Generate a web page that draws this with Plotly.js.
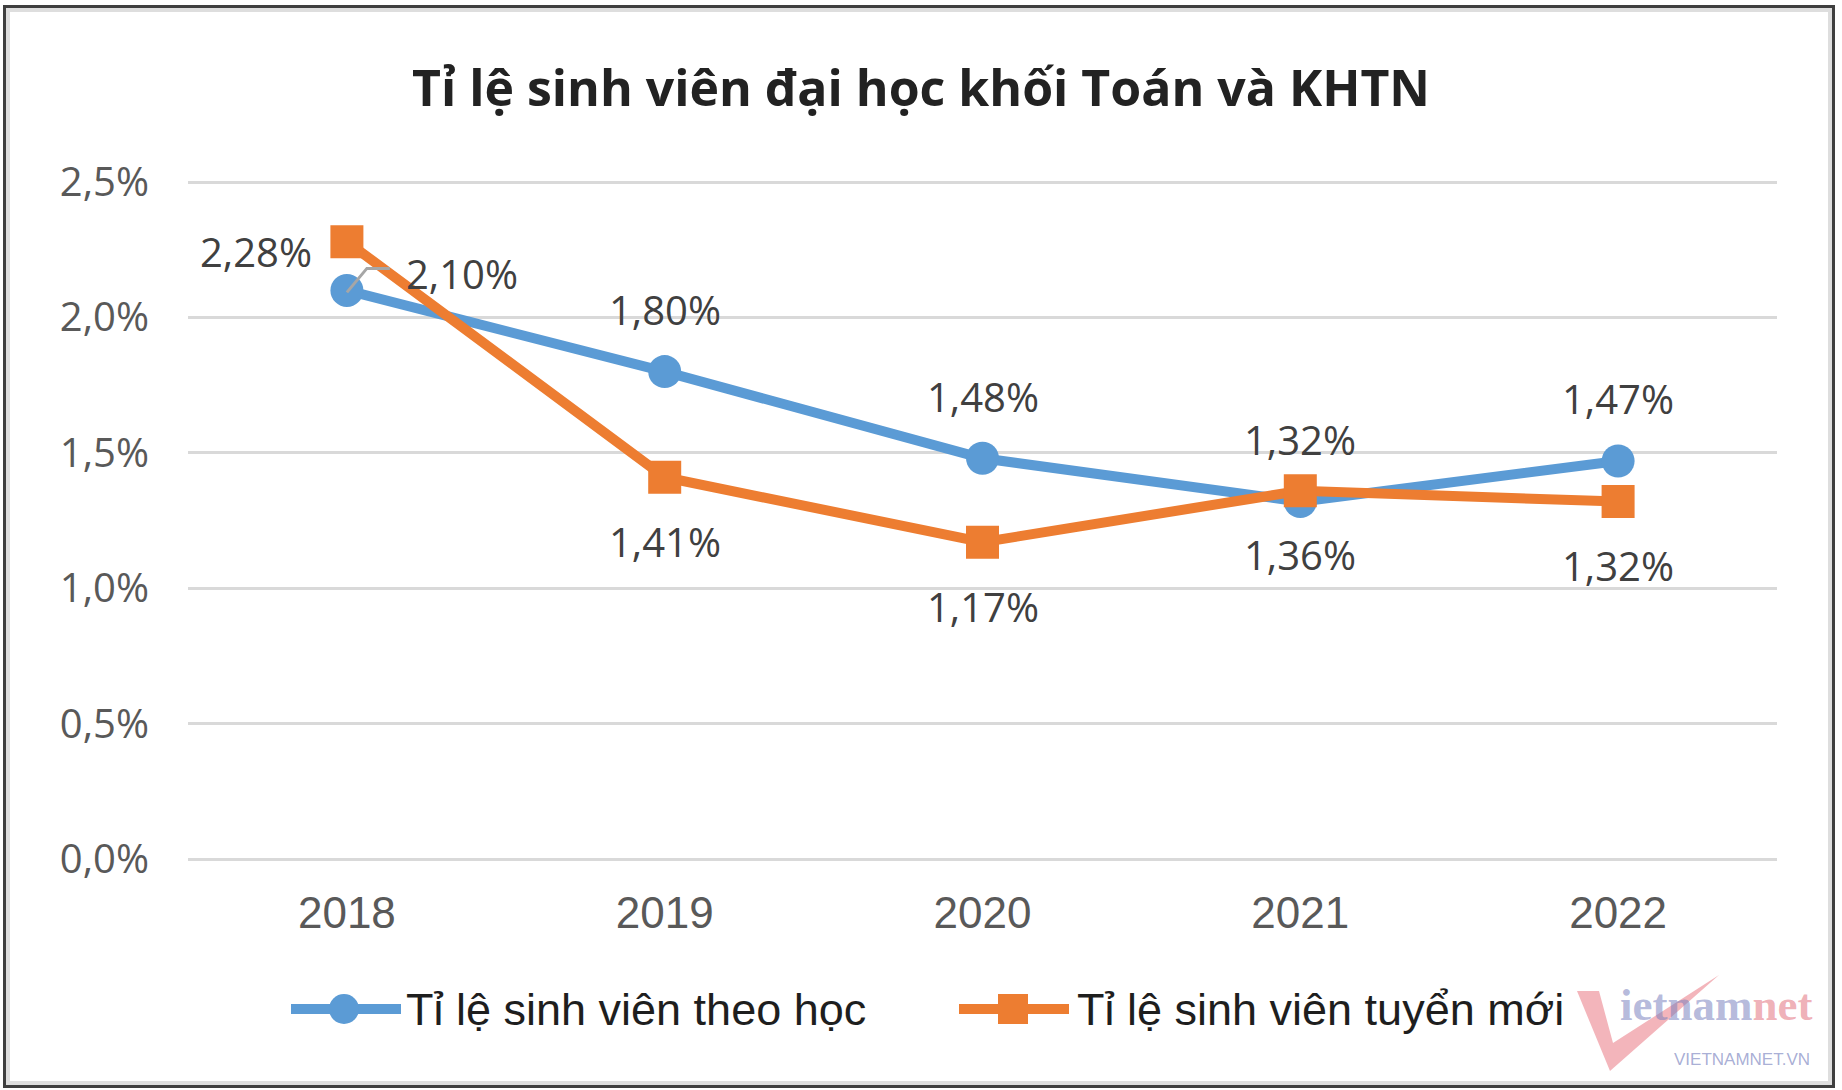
<!DOCTYPE html>
<html>
<head>
<meta charset="utf-8">
<script src="https://cdn.plot.ly/plotly-3.0.1.min.js"></script>
<style>
  html, body { margin: 0; padding: 0; background: #fff; }
  #wrap { position: relative; width: 1842px; height: 1090px; }
  #chart { width: 1842px; height: 1090px; }
  #frame {
    position: absolute; left: 3px; top: 5px; width: 1832px; height: 1083px;
    box-sizing: border-box; border: 3px solid #3f3f3f;
    box-shadow: inset 0 0 0 4px #dedede; pointer-events: none;
  }
</style>
</head>
<body>
<div id="wrap">
  <div id="chart"></div>
  <div id="frame"></div>
</div>
<script>
const years = ['2018', '2019', '2020', '2021', '2022'];
const theoHoc = [2.10, 1.80, 1.48, 1.32, 1.47];
const tuyenMoi = [2.28, 1.41, 1.17, 1.36, 1.32];
const seriesNames = ['Tỉ lệ sinh viên theo học', 'Tỉ lệ sinh viên tuyển mới'];
const yTicks = [0, 0.5, 1.0, 1.5, 2.0, 2.5];
const chartTitle = 'Tỉ lệ sinh viên đại học khối Toán và KHTN';

const BLUE = '#5B9BD5';
const ORANGE = '#ED7D31';
const LABEL_GRAY = '#404040';
const PCT = '\u0025';

const W = 1842, H = 1090;
const M = { l: 188, r: 65, t: 181, b: 231 };
const plotW = W - M.l - M.r;
const plotH = H - M.t - M.b;
// pixel -> paper helpers for the hand-made legend and watermark
const px = v => (v - M.l) / plotW;
const py = v => (H - M.b - v) / plotH;

const fmt = (v, d) => v.toFixed(d).replace('.', ',') + PCT;

const traces = [
  {
    x: years, y: theoHoc, name: seriesNames[0],
    type: 'scatter', mode: 'lines+markers',
    line: { color: BLUE, width: 10 },
    marker: { color: BLUE, size: 33, symbol: 'circle' },
    showlegend: false
  },
  {
    x: years, y: tuyenMoi, name: seriesNames[1],
    type: 'scatter', mode: 'lines+markers',
    line: { color: ORANGE, width: 10 },
    marker: { color: ORANGE, size: 33, symbol: 'square' },
    showlegend: false
  }
];

// category axis: numeric-looking names are read as indices, so place labels by index
const labelFont = { family: 'Open Sans, sans-serif', size: 40, color: LABEL_GRAY };
const annotations = [];

theoHoc.forEach((v, i) => {
  const a = { x: i, y: v, text: fmt(v, 2), showarrow: false, font: labelFont,
              xanchor: 'center', yanchor: 'middle', yshift: 62 };
  if (i === 0) { a.xanchor = 'left'; a.xshift = 57; a.yshift = 17; }
  annotations.push(a);
});
tuyenMoi.forEach((v, i) => {
  const a = { x: i, y: v, text: fmt(v, 2), showarrow: false, font: labelFont,
              xanchor: 'center', yanchor: 'middle', yshift: -64 };
  if (i === 0) { a.xanchor = 'right'; a.xshift = -33; a.yshift = -10; }
  annotations.push(a);
});

// legend text
const legendFont = { family: 'Liberation Sans, Arial, sans-serif', size: 45, color: '#1e1e1e' };
annotations.push({ xref: 'paper', yref: 'paper', x: px(404), y: py(1009), xanchor: 'left', yanchor: 'middle',
  text: seriesNames[0], showarrow: false, font: legendFont });
annotations.push({ xref: 'paper', yref: 'paper', x: px(1075), y: py(1009), xanchor: 'left', yanchor: 'middle',
  text: seriesNames[1], showarrow: false, font: legendFont });

// watermark
annotations.push({ xref: 'paper', yref: 'paper', x: px(1618), y: py(1005), xanchor: 'left', yanchor: 'middle',
  showarrow: false,
  text: "<span style='color:rgba(120,128,190,0.55)'>ietnam</span><span style='color:rgba(220,80,95,0.45)'>net</span>",
  font: { family: 'Liberation Serif, serif', size: 45, weight: 'bold' } });
annotations.push({ xref: 'paper', yref: 'paper', x: px(1742), y: py(1059), xanchor: 'center', yanchor: 'middle',
  showarrow: false, text: 'VIETNAMNET.VN',
  font: { family: 'Liberation Sans, sans-serif', size: 17, color: 'rgba(120,130,190,0.65)' } });

const shapes = [
  // leader line for the 2018 "theo học" label
  { type: 'path', xref: 'x', yref: 'y', xsizemode: 'pixel', ysizemode: 'pixel',
    xanchor: 0, yanchor: theoHoc[0],
    path: 'M 0 -2 L 20 22 L 43 22', line: { color: '#a6a6a6', width: 3 }, layer: 'above' },
  // legend symbols
  { type: 'line', xref: 'paper', yref: 'paper', x0: px(291), x1: px(401), y0: py(1009), y1: py(1009),
    line: { color: BLUE, width: 10 } },
  { type: 'circle', xref: 'paper', yref: 'paper', xsizemode: 'pixel', ysizemode: 'pixel',
    xanchor: px(344), yanchor: py(1009), x0: -15, x1: 15, y0: -15, y1: 15,
    fillcolor: BLUE, line: { width: 0 } },
  { type: 'line', xref: 'paper', yref: 'paper', x0: px(959), x1: px(1069), y0: py(1009), y1: py(1009),
    line: { color: ORANGE, width: 10 } },
  { type: 'rect', xref: 'paper', yref: 'paper', xsizemode: 'pixel', ysizemode: 'pixel',
    xanchor: px(1013), yanchor: py(1009), x0: -15, x1: 15, y0: -15, y1: 15,
    fillcolor: ORANGE, line: { width: 0 } },
  // watermark V
  { type: 'path', xref: 'paper', yref: 'paper', xsizemode: 'pixel', ysizemode: 'pixel',
    xanchor: px(1577), yanchor: py(1071),
    path: 'M 0 80 L 22 80 L 36 28 L 142 96 L 33 0 Z',
    fillcolor: 'rgba(225,70,85,0.4)', line: { width: 0 } }
];

const layout = {
  width: W, height: H,
  margin: M,
  paper_bgcolor: 'white', plot_bgcolor: 'white',
  showlegend: false,
  title: {
    text: '<b>' + chartTitle + '</b>',
    x: 0.5, xref: 'container', xanchor: 'center',
    y: 1 - 88 / H, yref: 'container', yanchor: 'middle',
    font: { family: 'Open Sans, sans-serif', size: 50, color: '#222222' }
  },
  xaxis: {
    type: 'category', range: [-0.5, 4.5],
    showgrid: false, zeroline: false, showline: false, ticks: '',
    ticklabelstandoff: 24,
    tickfont: { family: 'Liberation Sans, Arial, sans-serif', size: 44, color: '#595959' }
  },
  yaxis: {
    range: [0, 2.504], tickmode: 'array', tickvals: yTicks, ticktext: yTicks.map(v => fmt(v, 1)),
    showgrid: true, gridcolor: '#d9d9d9', gridwidth: 3,
    zeroline: true, zerolinecolor: '#d9d9d9', zerolinewidth: 3,
    showline: false, ticks: '',
    ticklabelstandoff: 38,
    tickfont: { family: 'Open Sans, sans-serif', size: 40, color: '#595959' }
  },
  annotations: annotations,
  shapes: shapes
};

Plotly.newPlot('chart', traces, layout, { displayModeBar: false, staticPlot: true });
</script>
</body>
</html>
